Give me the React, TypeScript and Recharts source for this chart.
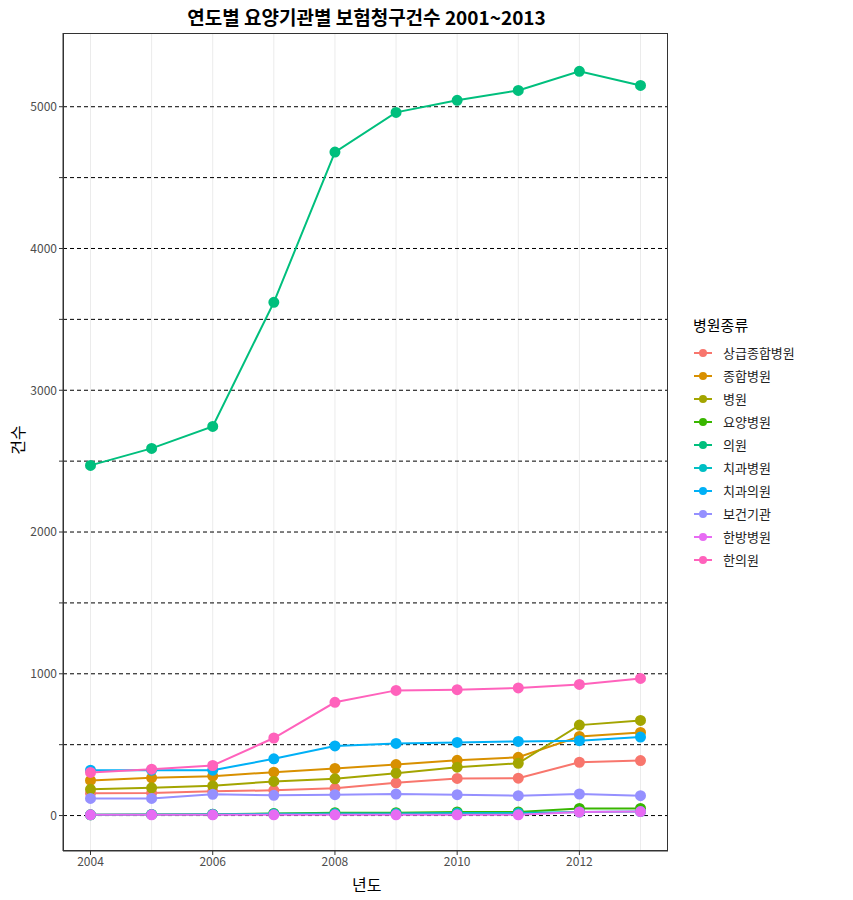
import React from 'react';
import { LineChart, Line, XAxis, YAxis, CartesianGrid } from 'recharts';

const years = [2004, 2005, 2006, 2007, 2008, 2009, 2010, 2011, 2012, 2013];
const xTicks = [2004, 2006, 2008, 2010, 2012];
const names = ['상급종합병원', '종합병원', '병원', '요양병원', '의원', '치과병원', '치과의원', '보건기관', '한방병원', '한의원'];
const colors = ['#F8766D', '#D89000', '#A3A500', '#39B600', '#00BF7D', '#00BFC4', '#00B0F6', '#9590FF', '#E76BF3', '#FF62BC'];
const s상급 = [157, 159, 171, 178, 192, 231, 262, 264, 376, 388];
const s종합 = [248, 266, 278, 306, 332, 360, 390, 411, 558, 586];
const s병원 = [185, 196, 210, 241, 259, 299, 341, 369, 638, 671];
const s요양 = [5, 8, 10, 15, 20, 20, 25, 25, 50, 50];
const s의원 = [2470, 2590, 2745, 3620, 4680, 4960, 5045, 5115, 5250, 5150];
const s치과병원 = [5, 8, 10, 12, 15, 15, 18, 18, 25, 28];
const s치과의원 = [320, 320, 320, 400, 491, 509, 516, 523, 528, 554];
const s보건 = [121, 121, 150, 143, 147, 152, 147, 140, 152, 140];
const s한방 = [5, 5, 5, 5, 5, 5, 5, 5, 25, 28];
const s한의원 = [304, 327, 353, 547, 799, 883, 888, 900, 925, 967];
const series = [s상급, s종합, s병원, s요양, s의원, s치과병원, s치과의원, s보건, s한방, s한의원];
const yTicks = [0, 500, 1000, 1500, 2000, 2500, 3000, 3500, 4000, 4500, 5000];

const data = years.map((y, i) => {
  const row: any = { year: y };
  names.forEach((n, k) => (row[n] = series[k][i]));
  return row;
});

const font = '"Noto Sans CJK KR", "Noto Sans", sans-serif';

export default function App() {
  return (
    <div style={{ position: 'absolute', left: 0, top: 0, width: 853, height: 900, background: '#fff', fontFamily: font }}>
      <div style={{ position: 'absolute', top: 3, width: 733, textAlign: 'center', fontSize: 19, fontWeight: 'bold' }}>
        연도별 요양기관별 보험청구건수 2001~2013
      </div>
      <div style={{ position: 'absolute', left: 352, top: 872, fontSize: 16 }}>년도</div>
      <div style={{ position: 'absolute', left: 2, top: 428, fontSize: 16, transform: 'rotate(-90deg)' }}>건수</div>
      <div style={{ position: 'absolute', left: 693, top: 314, fontFamily: font }}>
        <div style={{ fontSize: 15, color: '#000', marginBottom: 6 }}>병원종류</div>
        {names.map((n, k) => (
          <div key={n} style={{ display: 'flex', alignItems: 'center', height: 23 }}>
            <svg width={20} height={14}>
              <line x1={1} y1={7} x2={19} y2={7} stroke={colors[k]} strokeWidth={2} />
              <circle cx={10} cy={7} r={4} fill={colors[k]} />
            </svg>
            <span style={{ fontSize: 13, marginLeft: 10, color: '#222' }}>{n}</span>
          </div>
        ))}
      </div>
      <div style={{ position: 'absolute', left: 0, top: 0 }}>
        <LineChart width={853} height={900} data={data} margin={{ top: 33, right: 185, bottom: 0, left: 0 }}>
          <CartesianGrid stroke="#ebebeb" horizontal={false} verticalValues={years} />
          <CartesianGrid stroke="#000" strokeDasharray="4 3" vertical={false} horizontalValues={yTicks} />
          <XAxis dataKey="year" type="number" domain={[2003.55, 2013.45]} ticks={xTicks} allowDataOverflow
            tick={{ fontSize: 12, fill: '#4d4d4d' }} tickLine={{ stroke: '#333' }} tickSize={4}
            axisLine={{ stroke: '#333' }} height={49} />
          <YAxis type="number" domain={[-250, 5520]} ticks={yTicks} allowDataOverflow width={63}
            tickFormatter={(v: number) => (v % 1000 === 0 ? String(v) : '')}
            tick={{ fontSize: 12, fill: '#4d4d4d' }} tickLine={{ stroke: '#333' }} tickSize={4}
            axisLine={{ stroke: '#333' }} />
          {names.map((n, k) => (
            <Line key={n} dataKey={n} stroke={colors[k]} strokeWidth={2} isAnimationActive={false}
              dot={{ r: 4.5, fill: colors[k], stroke: colors[k] }} />
          ))}
        </LineChart>
      </div>
      <div style={{ position: 'absolute', left: 63, top: 33, width: 605, height: 818, border: '1px solid #333', boxSizing: 'border-box', pointerEvents: 'none' }} />
    </div>
  );
}
